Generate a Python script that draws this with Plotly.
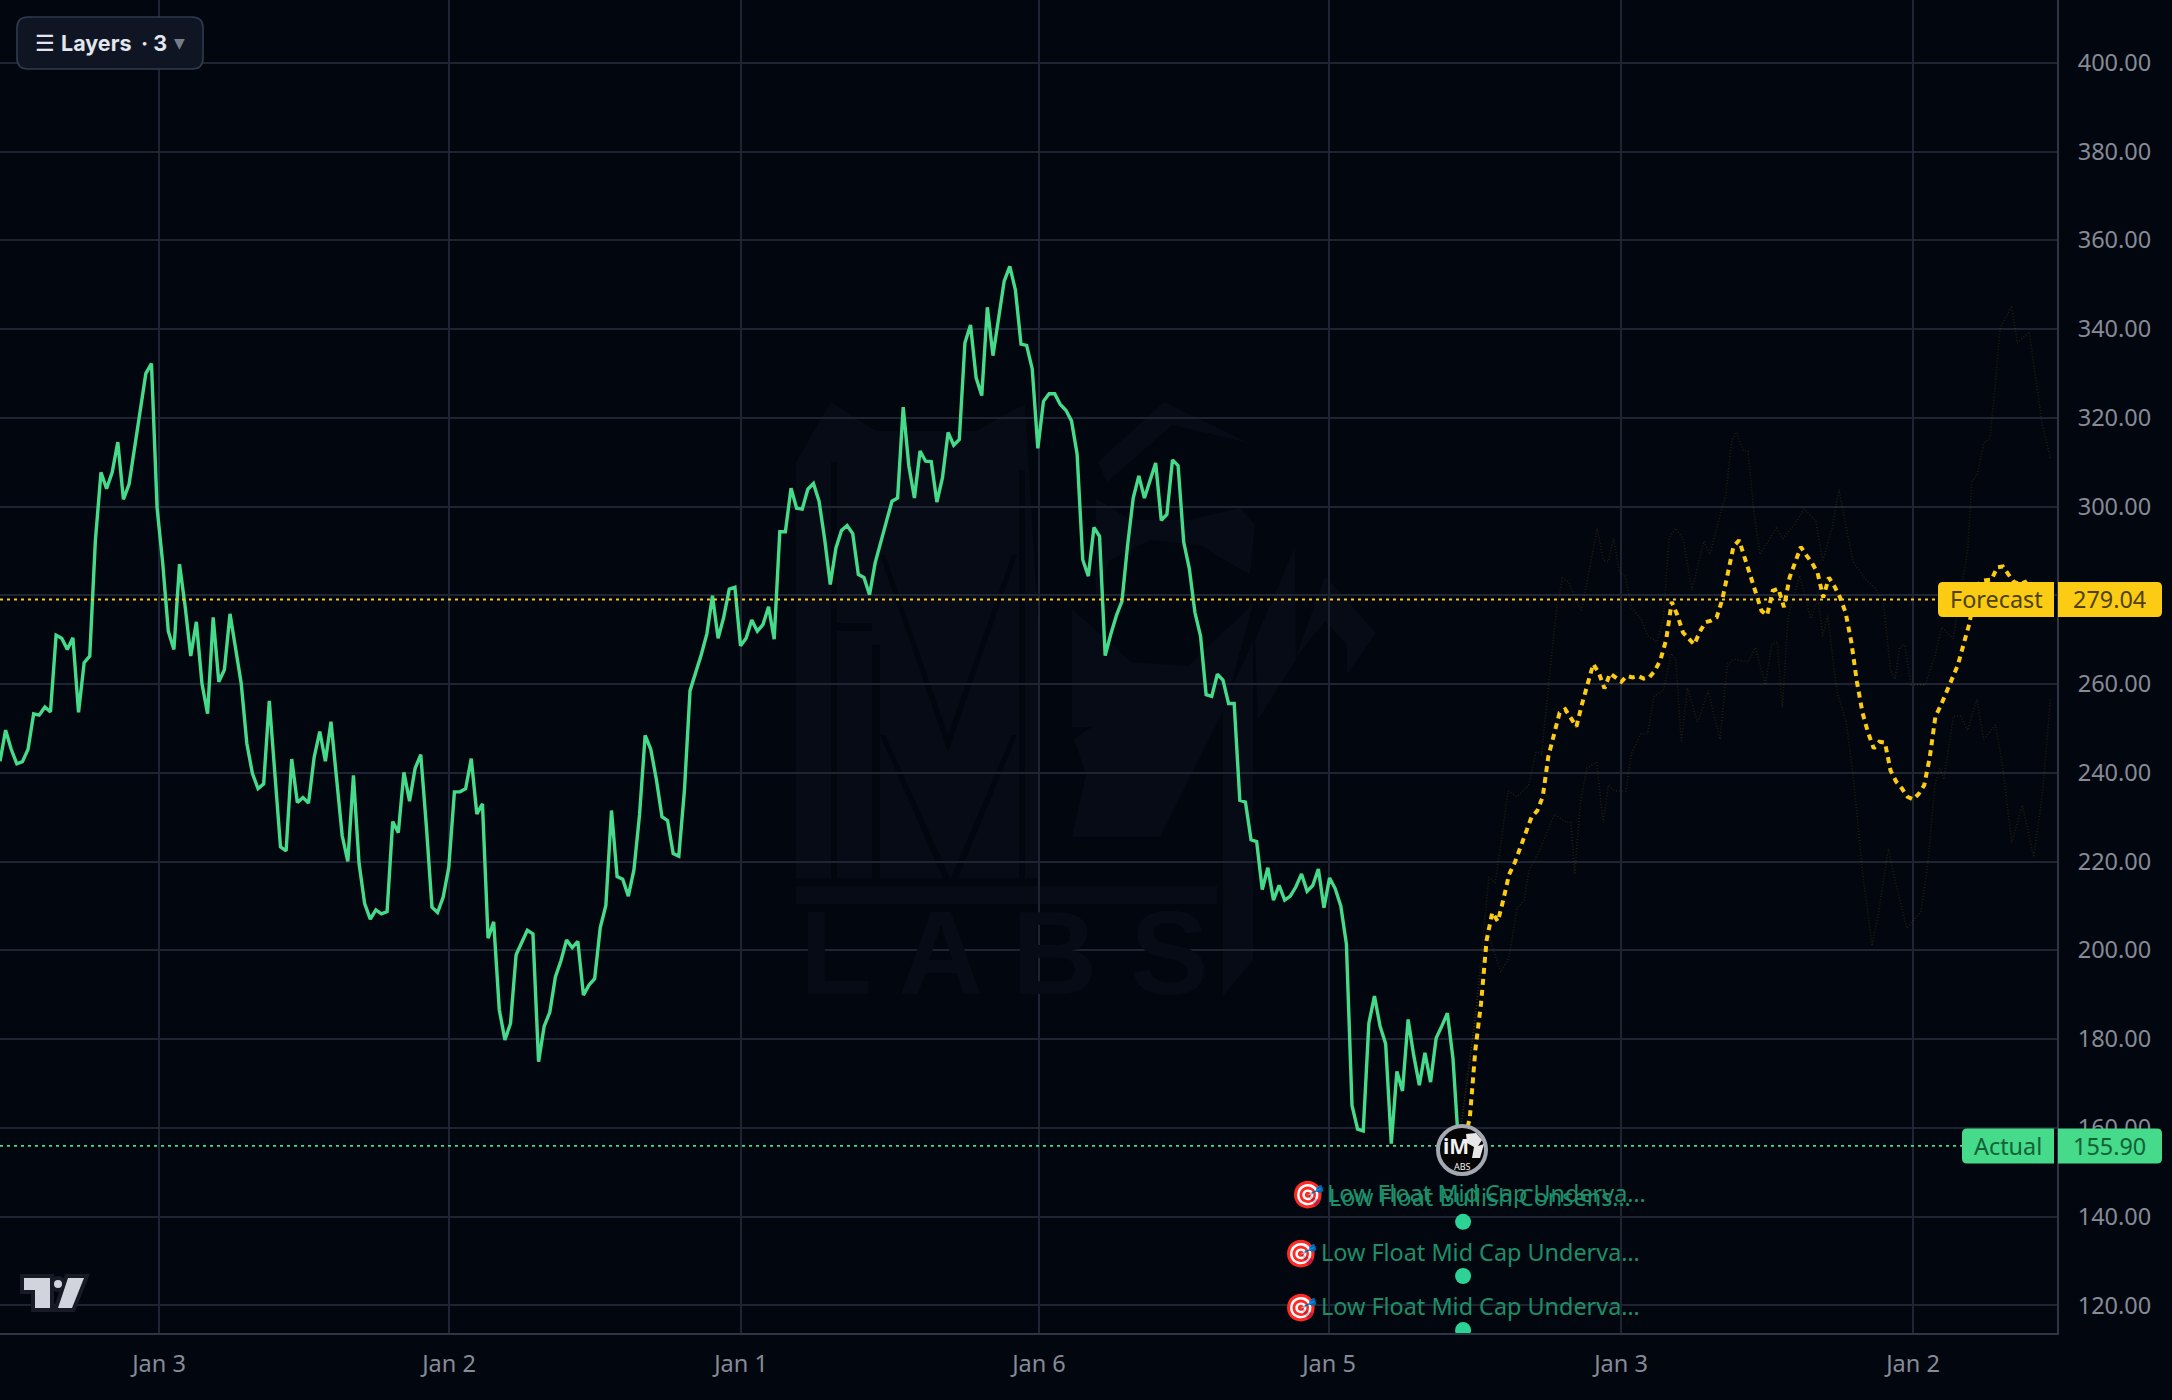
import plotly.graph_objects as go

# Hourly closes up to the latest print
actual_close = [
    242.6,249.6,245.3,242.0,242.5,245.3,253.3,253.0,254.8,253.7,
    271.0,270.3,267.8,270.4,253.6,264.8,266.3,292.3,307.7,304.0,
    307.7,314.5,301.6,305.0,313.3,321.3,330.0,332.2,299.7,287.3,
    271.9,267.8,287.0,277.5,266.3,274.0,260.1,253.3,275.0,260.5,
    263.2,275.8,267.6,260.1,246.6,239.8,236.4,237.5,256.2,240.4,
    223.3,222.4,243.1,233.3,234.4,233.2,243.5,249.3,242.6,251.5,
    239.1,225.8,220.0,239.4,219.6,210.5,207.0,209.1,208.2,208.7,
    229.0,226.5,240.1,233.6,241.0,244.1,228.0,209.7,208.5,212.0,
    218.7,235.7,235.7,236.4,243.2,230.7,233.0,202.7,206.4,186.6,
    179.8,183.5,199.0,201.8,204.5,203.7,174.9,182.9,186.0,194.0,
    197.7,202.3,200.6,202.0,189.9,192.2,193.6,205.1,210.1,231.5,
    216.6,216.0,212.2,218.1,230.5,248.4,245.3,238.5,230.1,229.2,
    221.8,221.2,236.0,258.5,262.3,266.6,271.3,279.9,270.3,275.0,
    281.4,281.8,268.6,270.3,274.4,271.9,
    273.4,277.4,270.1,294.3,294.3,304.1,299.6,299.4,303.9,305.2,
    301.2,292.6,282.4,290.6,294.6,295.7,293.9,284.7,284.0,280.1,
    287.3,291.7,296.6,301.2,301.9,322.4,309.2,301.9,312.5,310.2,
    310.1,301.0,306.5,316.7,313.8,315.1,336.9,340.9,329.0,325.0,
    344.9,334.0,342.9,350.8,354.1,348.8,336.6,336.3,331.0,313.1,
    323.7,325.4,325.4,323.0,321.7,319.3,311.8,288.0,284.3,295.3,
    293.3,266.4,271.2,275.4,278.7,291.3,301.9,306.9,301.9,305.8,
    309.8,296.9,298.2,310.5,309.2,292.0,286.0,276.1,270.8,257.6,
    257.2,262.2,260.9,255.6,255.6,233.8,233.4,224.9,224.5,213.7,
    218.6,211.3,214.6,211.3,212.2,214.3,217.2,213.3,214.6,218.3,
    209.6,216.3,213.9,210.0,201.4,165.0,159.7,159.3,183.5,189.7,
    182.9,178.9,156.4,172.7,168.3,184.4,176.3,169.6,176.9,170.3,
    180.2,182.9,185.8,175.6,155.9,
]
actual_bars = list(range(len(actual_close)))

# Median projection, starting from the last close
forecast_close = [
    155.9,157.0,162.2,177.7,188.0,202.3,208.5,206.5,211.5,217.1,
    219.7,223.0,226.8,230.0,231.4,234.6,243.7,249.0,253.5,254.3,
    252.5,250.4,255.5,259.7,264.5,262.5,259.0,262.4,261.5,260.5,
    261.8,261.5,261.8,261.2,261.5,263.0,265.5,270.0,278.5,275.5,
    271.6,270.2,268.9,271.8,273.9,274.3,275.0,279.0,285.0,291.0,
    292.4,288.5,284.5,280.5,276.5,275.5,281.0,281.5,277.3,284.0,
    287.5,290.9,289.0,287.3,285.0,279.5,284.0,282.0,279.5,276.0,
    269.5,260.5,253.5,249.0,245.5,247.0,246.8,240.5,238.0,236.5,
    234.6,234.0,235.2,237.2,243.6,252.7,255.3,258.5,261.1,264.3,
    268.9,273.4,279.9,283.2,283.4,283.5,286.3,286.5,284.7,283.0,
    282.5,283.0,281.0,279.04,
]
forecast_bars = [actual_bars[-1] + i for i in range(len(forecast_close))]

# Upper and lower projection paths
upper_bars = [
    260,262.9,265.4,266.5,267.5,268.8,270.4,272.5,273.8,274.8,276.3,277.5,278.5,279.6,280.4,
    281.9,283.2,284.7,285.8,286.7,287.6,288.7,289.7,290.8,292.5,293.7,295.4,296.5,297.5,298.7,
    300,301.6,303.7,304.8,306.6,307.6,308.7,309.5,310.8,311.6,312.6,313.7,316.6,317.8,319.9,
    321.6,323.7,324.9,326.6,327.8,329.1,330.3,332.4,334.1,335.7,337,337.8,338.6,339.5,340.7,
    343.2,344.9,346.1,348.2,349.5,350.7,351.5,352.4,353.6,354.7,355.7,356.5,358.6,359.6,361.7,
    363,364,365.5,
]
upper_close = [
    155.9,184.1,216.5,215.2,223.6,235.9,234.6,237.2,244.7,244.3,263.1,277.3,283.8,283.1,280.5,
    276.6,285.1,295.1,287.9,287.6,292.8,285.1,284.4,277.3,274.7,270.8,269.5,274.7,292.8,295.1,
    292.8,281.2,292.2,289.2,298.0,302.5,314.8,316.8,312.5,312.5,299.3,289.2,295.1,292.8,296.0,
    299.5,296.7,287.6,295.4,303.8,295.4,287.6,283.8,281.8,278.6,263.1,261.1,268.2,268.9,259.8,
    259.8,266.3,272.8,270.2,281.2,289.6,305.8,307.0,314.2,315.4,327.8,340.0,345.2,336.8,339.4,
    327.8,318.7,310.9,
]
lower_bars = [
    260,265,266.3,267.5,269,270.4,271.7,272.5,274.6,277.1,279.2,280,280.7,281.7,282.9,
    284.6,285.8,286.7,287.9,289.8,290.8,292.5,293.7,294.8,296.5,297.9,298.7,299.7,300.8,302.6,
    304.5,306.6,307.9,309.1,311.6,312.9,314.7,315.8,316.8,317.7,318.7,320.8,322.8,324.1,324.9,
    325.8,327.4,329.1,330.3,332,333.7,334.9,336.6,337.8,339.9,342.4,343.6,344.9,345.7,346.5,
    348.2,349.5,350.7,352.4,353.6,355.7,357,358.6,360.5,362.5,364,365.5,
]
lower_close = [
    155.9,204.9,199.7,195.1,198.4,209.4,211.3,217.8,223.0,230.7,228.8,228.8,217.1,233.3,241.1,
    242.4,228.8,237.2,235.9,235.9,244.3,248.8,248.8,257.2,258.5,266.9,265.6,246.9,259.2,251.4,
    258.5,247.5,264.4,265.6,265.0,268.2,259.8,268.9,269.5,254.7,274.7,284.4,274.7,279.2,270.8,
    275.4,258.5,251.4,239.8,217.8,201.0,208.7,222.9,215.8,204.9,208.7,219.1,237.2,241.1,238.5,
    252.7,252.7,249.5,256.6,247.5,250.8,241.1,224.3,232.7,221.0,234.6,256.6,
]

# Axis labels
date_labels = ["Jan 3", "Jan 2", "Jan 1", "Jan 6", "Jan 5", "Jan 3", "Jan 2"]
date_bars = [28.34, 80.04, 132.09, 185.2, 236.9, 288.95, 341.0]
price_ticks = [120, 140, 160, 180, 200, 220, 240, 260, 280, 300, 320, 340, 360, 380, 400]

# Signal pins under the last bar
pin_bar = [260.8, 260.8, 260.8]
pin_price = [138.8, 126.6, 114.4]

last_actual = actual_close[-1]
last_forecast = forecast_close[-1]

WIDTH, HEIGHT = 2172, 1400
PLOT_W, PLOT_H = 2057, 1333
BG = "#02060f"
GRID = "#1e2432"
AXIS = "#2e3545"
MARK = "#070b15"
FONT = "Noto Sans"


def px_shape(points, fill, line=None, lw=0, layer="above"):
    """Closed polygon placed in pixels from the top-left corner of the figure."""
    path = "M" + " L".join(f"{x} {-y}" for x, y in points) + " Z"
    return dict(type="path", xref="paper", yref="paper", xsizemode="pixel", ysizemode="pixel",
                xanchor=0, yanchor=1, path=path, fillcolor=fill, layer=layer,
                line=dict(color=line or fill, width=lw))


def round_path(x0, y0, x1, y1, rl, rr):
    """Rounded rectangle path with separate radii for its left and right sides."""
    return (f"M{x0 + rl} {y0} L{x1 - rr} {y0} Q{x1} {y0} {x1} {y0 + rr} L{x1} {y1 - rr} "
            f"Q{x1} {y1} {x1 - rr} {y1} L{x0 + rl} {y1} Q{x0} {y1} {x0} {y1 - rl} "
            f"L{x0} {y0 + rl} Q{x0} {y0} {x0 + rl} {y0} Z")


def price_tag(x0, x1, price, fill, rl, rr):
    """Flag tied to a price on the y axis, sized in pixels."""
    return dict(type="path", xref="paper", yref="y", xsizemode="pixel", ysizemode="pixel",
                xanchor=1, yanchor=price, path=round_path(x0, -17.5, x1, 17.5, rl, rr),
                fillcolor=fill, line=dict(width=0), layer="above")


def label(px, py, text, size, color, anchor="left", font=FONT):
    return dict(xref="paper", yref="paper", x=px / PLOT_W, y=1 - py / PLOT_H, text=text,
                showarrow=False, xanchor=anchor, yanchor="middle",
                font=dict(family=font, size=size, color=color))


def dotted_level(price, color):
    return dict(type="line", xref="paper", yref="y", x0=0, x1=1, y0=price, y1=price,
                line=dict(color=color, width=1.8, dash="3px,4px"), layer="above")


fig = go.Figure()

for bars, closes in ((upper_bars, upper_close), (lower_bars, lower_close)):
    fig.add_trace(go.Scatter(x=bars, y=closes, mode="lines", hoverinfo="skip",
                             line=dict(color="rgba(255,204,20,0.13)", width=1.6, dash="1px,2px")))

fig.add_trace(go.Scatter(x=actual_bars, y=actual_close, mode="lines", hoverinfo="skip",
                         line=dict(color="#45db8b", width=3.4)))
fig.add_trace(go.Scatter(x=forecast_bars, y=forecast_close, mode="lines", hoverinfo="skip",
                         line=dict(color="#fccb14", width=4, dash="6px,5px")))
fig.add_trace(go.Scatter(x=pin_bar, y=pin_price, mode="markers", hoverinfo="skip",
                         marker=dict(color="#2dd394", size=16)))

shapes = []

# Background watermark
for poly in (
    [(796, 462), (831, 402), (876, 431), (976, 431), (1025, 404), (1039, 640), (1039, 878), (796, 878)],
    [(1072, 609), (1131, 662), (1188, 666), (1253, 604), (1225, 707), (1160, 837), (1072, 837),
     (1086, 774), (1074, 739), (1092, 727), (1072, 727)],
    [(796, 886), (1217, 886), (1217, 904), (796, 904)],
    [(1223, 996), (1253, 960), (1253, 641), (1223, 707)],
    [(1296, 657), (1325, 576), (1376, 633), (1347, 674), (1347, 645), (1325, 621)],
    [(1255, 640), (1295, 547), (1296, 660), (1258, 720)],
    [(1098, 462), (1164, 402), (1249, 443), (1172, 425), (1107, 482)],
    [(1096, 498), (1130, 520), (1188, 520), (1240, 508), (1255, 525), (1250, 575), (1200, 545),
     (1150, 540), (1110, 560), (1096, 600)],
):
    shapes.append(px_shape(poly, MARK, layer="below"))
for poly in (
    [(831, 462), (837, 462), (837, 878), (831, 878)],
    [(831, 623), (872, 623), (872, 631), (831, 631)],
    [(872, 645), (880, 645), (880, 878), (872, 878)],
    [(880, 555), (885, 555), (948, 735), (1012, 555), (1017, 555), (948, 752)],
    [(880, 735), (885, 735), (950, 878), (943, 878)],
    [(1012, 735), (1017, 735), (958, 878), (951, 878)],
    [(1019, 470), (1025, 470), (1025, 878), (1019, 878)],
):
    shapes.append(px_shape(poly, BG, layer="below"))

# Level lines and their flags
shapes.append(dotted_level(last_forecast, "#fccb14"))
shapes.append(dotted_level(last_actual, "#45db8b"))
shapes.append(price_tag(-119, -3, last_forecast, "#fccb14", 5, 0))
shapes.append(price_tag(1, 105, last_forecast, "#fccb14", 0, 5))
shapes.append(price_tag(-95, -3, last_actual, "#45db8b", 5, 0))
shapes.append(price_tag(1, 105, last_actual, "#45db8b", 0, 5))

# Layers button
shapes.append(dict(type="path", xref="paper", yref="paper", xsizemode="pixel", ysizemode="pixel",
                   xanchor=0, yanchor=1, path=round_path(17, -69, 203, -17, 11, 11),
                   fillcolor="#0f1522", line=dict(color="#2f3b4e", width=1.6), layer="above"))

# Corner brand mark
mark_t = [(24, 1278), (50, 1278), (50, 1308), (35, 1308), (35, 1290), (24, 1290)]
mark_slash = [(68, 1278), (84, 1278), (72, 1308), (58, 1308)]
shapes.append(px_shape(mark_t, "#171b26", "#171b26", 8))
shapes.append(px_shape(mark_slash, "#171b26", "#171b26", 8))
shapes.append(dict(type="circle", xref="paper", yref="paper", xsizemode="pixel", ysizemode="pixel",
                   xanchor=0, yanchor=1, x0=52, x1=64, y0=-1290, y1=-1278,
                   fillcolor="#d1d4dc", line=dict(color="#171b26", width=4), layer="above"))
shapes.append(px_shape(mark_t, "#d1d4dc"))
shapes.append(px_shape(mark_slash, "#d1d4dc"))

# Round avatar on the last bar
shapes.append(dict(type="circle", xref="paper", yref="paper", xsizemode="pixel", ysizemode="pixel",
                   xanchor=0, yanchor=1, x0=1438, x1=1486, y0=-1174, y1=-1126,
                   fillcolor="#050505", line=dict(color="#a4a8b0", width=4), layer="above"))
shapes.append(px_shape([(1466, 1134), (1476, 1133), (1482, 1140), (1478, 1146), (1484, 1144),
                        (1480, 1158), (1472, 1158), (1474, 1147), (1467, 1143)], "#e8e8e8"))

annotations = [
    label(1004, 953, "<b>L A B S</b>", 118, MARK, "center", "Liberation Sans"),
    label(33, 43, "☰ <b>Layers</b>", 21.5, "#e2e6ee", font="Inter"),
    label(139, 43, "<b>· 3</b>", 21.5, "#e2e6ee", font="Inter"),
    label(172, 43, "▼", 14, "#767d8a", font="DejaVu Sans"),
    label(1996, 599, "Forecast", 23.4, "#4d4209", "center"),
    label(2109, 599, f"{last_forecast:.2f}", 23.4, "#4d4209", "center"),
    label(2008, 1146, "Actual", 23.4, "#126238", "center"),
    label(2109, 1146, f"{last_actual:.2f}", 23.4, "#126238", "center"),
    label(1456, 1146, "<b>iM</b>", 21, "#f2f2f2", "center"),
    label(1462, 1166, "ABS", 9, "#f2f2f2", "center"),
    label(1308, 1193, "🎯", 27, "#e8524a", "center"),
    label(1325, 1193, "Low Float Mid Cap Underva…", 23.4, "#1c8f69"),
    label(1327, 1197, "Low Float Bullish Consens…", 23.4, "#1c8f69"),
    label(1301, 1252, "🎯", 27, "#e8524a", "center"),
    label(1319, 1252, "Low Float Mid Cap Underva…", 23.4, "#1c8f69"),
    label(1301, 1306, "🎯", 27, "#e8524a", "center"),
    label(1319, 1306, "Low Float Mid Cap Underva…", 23.4, "#1c8f69"),
]

fig.update_layout(
    width=WIDTH, height=HEIGHT, showlegend=False,
    margin=dict(l=0, r=WIDTH - PLOT_W, t=0, b=HEIGHT - PLOT_H, pad=0),
    paper_bgcolor=BG, plot_bgcolor=BG,
    shapes=shapes, annotations=annotations,
    xaxis=dict(range=[0, PLOT_W / 5.61], tickmode="array", tickvals=date_bars, ticktext=date_labels,
               showgrid=True, gridcolor=GRID, gridwidth=1.6, zeroline=False,
               showline=True, linecolor=AXIS, linewidth=2,
               ticks="outside", ticklen=9, tickcolor="rgba(0,0,0,0)",
               tickfont=dict(family=FONT, size=23.5, color="#868b96")),
    yaxis=dict(range=[113.75, 414.14], side="right", tickmode="array", tickvals=price_ticks,
               tickformat=".2f", showgrid=True, gridcolor=GRID, gridwidth=1.6, zeroline=False,
               showline=True, linecolor=AXIS, linewidth=2,
               ticks="outside", ticklen=14, tickcolor="rgba(0,0,0,0)",
               tickfont=dict(family=FONT, size=23.5, color="#868b96")),
)

fig.write_html("out.html")
